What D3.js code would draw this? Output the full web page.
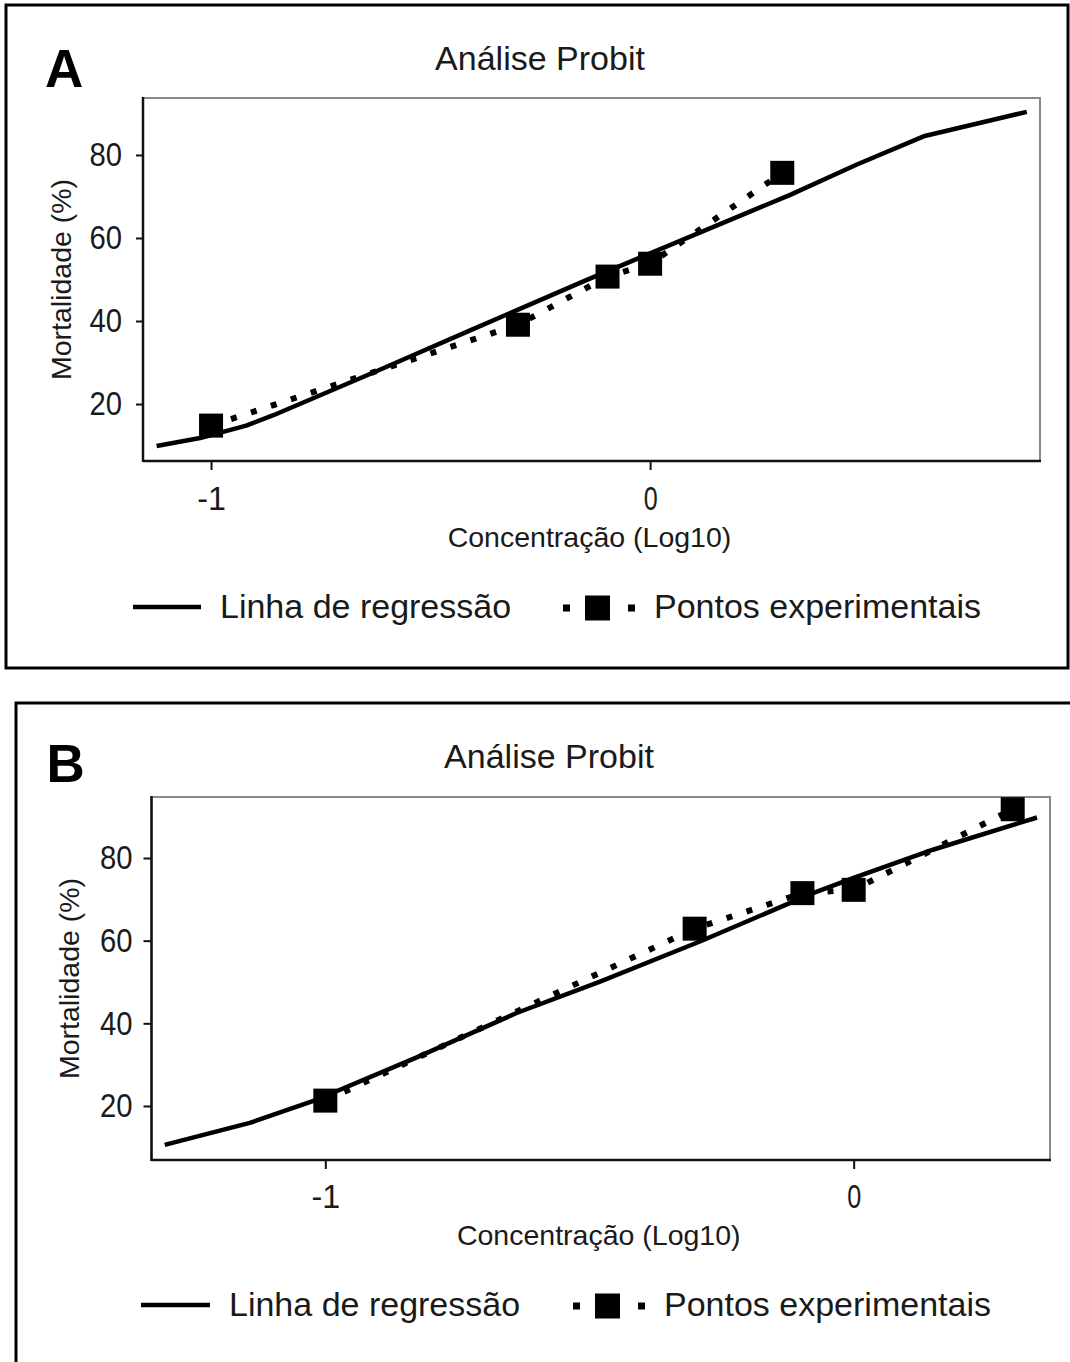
<!DOCTYPE html>
<html>
<head>
<meta charset="utf-8">
<script src="https://cdn.jsdelivr.net/npm/d3@7"></script>
<style>
  body { margin: 0; background: #fff; }
  svg { display: block; }
  text { font-family: "Liberation Sans", Arial, sans-serif; fill: #1a1a1a; }
</style>
</head>
<body>
<svg width="1070" height="1362"></svg>
<script>
// values

// log10 of the tested concentrations (same for both panels)
const doses = [-1, -0.301, -0.097, 0, 0.301];

// experimental mortality (%)
const mortA = [14.8, 39.1, 50.7, 53.8, 75.7];
const mortB = [21.3, 62.9, 71.5, 72.3, 91.8];

// regression line, points taken along the drawn curve
const fitXA = [-1.124, -1.025, -0.92, -0.858, -0.630, -0.402, -0.144, -0.061, 0.319, 0.471, 0.623, 0.858];
const fitYA = [9.9, 11.8, 14.8, 17.3, 27.6, 38.1, 49.9, 53.6, 70.4, 77.7, 84.5, 90.4];
const fitXB = [-1.304, -1.143, -1.017, -0.828, -0.638, -0.480, -0.291, -0.077, 0.0, 0.150, 0.347];
const fitYB = [10.6, 15.9, 21.5, 31.7, 42.5, 50.1, 59.8, 71.5, 75.2, 82.0, 89.8];

const yTicks = [20, 40, 60, 80];
const xTicks = [-1, 0];

const title = 'Análise Probit';
const xTitle = 'Concentração (Log10)';
const yTitle = 'Mortalidade (%)';
const legLine = 'Linha de regressão';
const legPts = 'Pontos experimentais';

//layout of the two panels (pixel positions only)
const panels = [
  { label: 'A', mort: mortA, fx: fitXA, fy: fitYA,
    box: [6, 5, 1062, 663], plot: { l: 143, t: 98, r: 1040, b: 461 },
    xDom: [-1.155, 0.888], yDom: [6.27, 93.73],
    letter: [45, 87], titleX: 540, titleY: 70, yLabX: 71, xLabY: 547,
    yTick: [7, 14], xTick: [9, 16],
    leg: { y: 607, lx: 133, lx2: 201, lt: 220, px: 563, pt: 654 } },
  { label: 'B', mort: mortB, fx: fitXB, fy: fitYB,
    box: [16, 703, 1080, 700], plot: { l: 151.5, t: 797, r: 1050, b: 1160 },
    xDom: [-1.329, 0.3716], yDom: [6.93, 94.76],
    letter: [46.5, 782], titleX: 549, titleY: 768, yLabX: 79, xLabY: 1245,
    yTick: [8, 11], xTick: [9, 15],
    leg: { y: 1305, lx: 141, lx2: 210, lt: 229, px: 573, pt: 664 } }
];

const svg = d3.select('svg');

//condense the tick digits a bit, like in the original
function narrow(sel) {
  sel.each(function () {
    const w = this.getComputedTextLength();
    d3.select(this).attr('textLength', w * 0.86).attr('lengthAdjust', 'spacingAndGlyphs');
  });
}

panels.forEach(p => {
  const g = svg.append('g');
  const P = p.plot;

  // panel border
  g.append('rect')
    .attr('x', p.box[0]).attr('y', p.box[1])
    .attr('width', p.box[2]).attr('height', p.box[3])
    .attr('fill', 'none').attr('stroke', '#000').attr('stroke-width', 3);

  g.append('text')
    .attr('x', p.letter[0]).attr('y', p.letter[1])
    .style('font-size', '53px').style('font-weight', 'bold').style('fill', '#000')
    .text(p.label);

  const x = d3.scaleLinear().domain(p.xDom).range([P.l, P.r]);
  const y = d3.scaleLinear().domain(p.yDom).range([P.b, P.t]);
  const cx = (P.l + P.r) / 2;

  g.append('text')
    .attr('x', p.titleX).attr('y', p.titleY)
    .attr('text-anchor', 'middle')
    .style('font-size', '34px')
    .text(title);

  // plot frame: light top/right, dark left/bottom
  g.append('rect')
    .attr('x', P.l).attr('y', P.t)
    .attr('width', P.r - P.l).attr('height', P.b - P.t)
    .attr('fill', '#fff').attr('stroke', '#8a8a8a').attr('stroke-width', 2);

  const yAxis = g.append('g')
    .attr('transform', `translate(${P.l},0)`)
    .call(d3.axisLeft(y).tickValues(yTicks).tickSize(p.yTick[0]).tickPadding(p.yTick[1]));
  const xAxis = g.append('g')
    .attr('transform', `translate(0,${P.b})`)
    .call(d3.axisBottom(x).tickValues(xTicks).tickSize(p.xTick[0]).tickPadding(p.xTick[1]).tickFormat(d3.format('d')));

  [yAxis, xAxis].forEach(a => {
    a.select('.domain').remove();
    a.selectAll('.tick line').attr('stroke', '#111').attr('stroke-width', 2);
    a.selectAll('.tick text')
      .attr('fill', '#1a1a1a')
      .style('font-size', '34px')
      .style('font-family', '"Liberation Sans", Arial, sans-serif')
      .call(narrow);
  });
  xAxis.selectAll('.tick text').text(d => d < 0 ? '-' + Math.abs(d) : d).call(narrow);

  g.append('line')
    .attr('x1', P.l).attr('x2', P.l).attr('y1', P.t - 1).attr('y2', P.b + 1)
    .attr('stroke', '#111').attr('stroke-width', 2.5);
  g.append('line')
    .attr('x1', P.l).attr('x2', P.r + 1).attr('y1', P.b).attr('y2', P.b)
    .attr('stroke', '#111').attr('stroke-width', 2.5);

  g.append('text')
    .attr('transform', `translate(${p.yLabX},${(P.t + P.b) / 2}) rotate(-90)`)
    .attr('text-anchor', 'middle')
    .style('font-size', '28.5px')
    .text(yTitle);

  g.append('text')
    .attr('x', cx - 2).attr('y', p.xLabY)
    .attr('text-anchor', 'middle')
    .style('font-size', '28.5px')
    .text(xTitle);

  // regression line
  const fit = p.fx.map((v, i) => [v, p.fy[i]]);
  g.append('path')
    .datum(fit)
    .attr('fill', 'none').attr('stroke', '#000').attr('stroke-width', 4.5)
    .attr('stroke-linejoin', 'round')
    .attr('d', d3.line().x(d => x(d[0])).y(d => y(d[1])));

  // experimental points joined by a dotted line
  const pts = doses.map((v, i) => [v, p.mort[i]]);
  g.append('path')
    .datum(pts)
    .attr('fill', 'none').attr('stroke', '#000').attr('stroke-width', 6)
    .attr('stroke-dasharray', '6 15')
    .attr('d', d3.line().x(d => x(d[0])).y(d => y(d[1])));

  g.selectAll('rect.pt')
    .data(pts)
    .join('rect')
    .attr('class', 'pt')
    .attr('x', d => x(d[0]) - 12).attr('y', d => y(d[1]) - 12)
    .attr('width', 24).attr('height', 24)
    .attr('fill', '#000');

  // legend
  const L = p.leg;
  g.append('line')
    .attr('x1', L.lx).attr('x2', L.lx2).attr('y1', L.y).attr('y2', L.y)
    .attr('stroke', '#000').attr('stroke-width', 4.5);
  g.append('text')
    .attr('x', L.lt).attr('y', L.y + 11)
    .style('font-size', '34px')
    .text(legLine);

  const sample = [[L.px, 7], [L.px + 22, 25], [L.px + 65, 7]];
  g.selectAll('rect.leg')
    .data(sample)
    .join('rect')
    .attr('class', 'leg')
    .attr('x', d => d[0]).attr('y', d => L.y + 1 - d[1] / 2)
    .attr('width', d => d[1]).attr('height', d => d[1])
    .attr('fill', '#000');
  g.append('text')
    .attr('x', L.pt).attr('y', L.y + 11)
    .style('font-size', '34px')
    .text(legPts);
});
</script>
</body>
</html>
